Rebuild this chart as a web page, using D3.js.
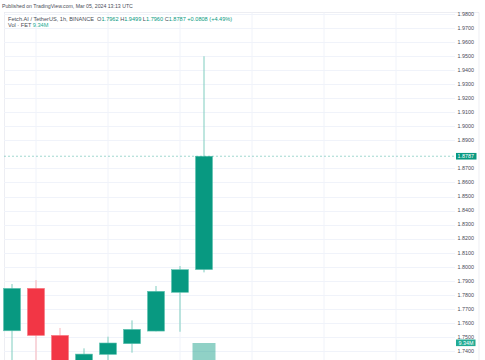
<!DOCTYPE html>
<html>
<head>
<meta charset="utf-8">
<script src="https://cdn.jsdelivr.net/npm/d3@7"></script>
<style>
  html, body { margin: 0; padding: 0; background: #fff; }
  svg { display: block; font-family: "Liberation Sans", Arial, sans-serif; }
</style>
</head>
<body>
<svg id="chart" width="485" height="360"></svg>
<script>
// ========== DATA ==========
const opens  = [1.7544, 1.7846, 1.7511, 1.7300, 1.7376, 1.7452, 1.7542, 1.7818, 1.7980];
const highs  = [1.7877, 1.7905, 1.7564, 1.7419, 1.7502, 1.7618, 1.7863, 1.8005, 1.9499];
const lows   = [1.7330, 1.7320, 1.7250, 1.7280, 1.7320, 1.7388, 1.7540, 1.7537, 1.7960];
const closes = [1.7846, 1.7511, 1.7300, 1.7378, 1.7457, 1.7554, 1.7825, 1.7979, 1.8787];
const volumes = [1.4, 2.1, 1.6, 0.9, 1.0, 1.3, 1.9, 2.3, 9.34]; // millions

const priceTicks = [1.98, 1.97, 1.96, 1.95, 1.94, 1.93, 1.92, 1.91, 1.90, 1.89, 1.87,
  1.86, 1.85, 1.84, 1.83, 1.82, 1.81, 1.80, 1.79, 1.78, 1.77, 1.76, 1.75, 1.74];
const timeGrid = [1, 4, 7, 10, 13, 16];

const lastPrice = 1.8787;
const lastVolume = "9.34M";

const green = "#089981", red = "#f23645";
const textGray = "#4a4d57";

// ========== LAYOUT ==========
const svg = d3.select("#chart");
const pane = { left: 4, top: 12.5, right: 455, axisRight: 479 };

const y = d3.scaleLinear().domain([1.74, 1.98]).range([351, 14]);
const x = d3.scaleLinear().domain([0, 1]).range([12, 36]);
const yVol = d3.scaleLinear().domain([0, 9.34]).range([410, 343]);

// ========== HEADER ==========
svg.append("text")
  .attr("x", 2).attr("y", 7.5)
  .attr("font-size", 5.2).attr("fill", textGray)
  .text("Published on TradingView.com, Mar 05, 2024 13:13 UTC");

// pane borders
svg.append("line").attr("x1", pane.left).attr("x2", pane.axisRight)
  .attr("y1", pane.top).attr("y2", pane.top).attr("stroke", "#e0e3eb").attr("stroke-width", 0.6);
svg.append("line").attr("x1", pane.left + 0.5).attr("x2", pane.left + 0.5)
  .attr("y1", pane.top).attr("y2", 360).attr("stroke", "#e0e3eb").attr("stroke-width", 0.6);
svg.append("line").attr("x1", pane.axisRight).attr("x2", pane.axisRight)
  .attr("y1", pane.top).attr("y2", 360).attr("stroke", "#e0e3eb").attr("stroke-width", 0.6);

// ========== GRID ==========
const grid = svg.append("g");
grid.selectAll(".hgrid").data(priceTicks).join("line")
  .attr("x1", pane.left).attr("x2", pane.right)
  .attr("y1", d => Math.round(y(d)) + 0.5).attr("y2", d => Math.round(y(d)) + 0.5)
  .attr("stroke", "#f0f3fa").attr("stroke-width", 1);
grid.selectAll(".vgrid").data(timeGrid).join("line")
  .attr("x1", d => x(d)).attr("x2", d => x(d))
  .attr("y1", pane.top).attr("y2", 360)
  .attr("stroke", "#f0f3fa").attr("stroke-width", 1);

// price axis labels
svg.append("g").selectAll("text").data(priceTicks).join("text")
  .attr("x", 474).attr("y", d => y(d) + 1.8)
  .attr("text-anchor", "end").attr("font-size", 5.4).attr("fill", textGray)
  .text(d => d.toFixed(4));

// ========== VOLUME ==========
svg.append("g").selectAll("rect").data(volumes).join("rect")
  .attr("x", (d, i) => x(i) - 11.5).attr("width", 23)
  .attr("y", d => yVol(d)).attr("height", d => yVol(0) - yVol(d))
  .attr("fill", (d, i) => closes[i] >= opens[i] ? "rgba(8,153,129,0.45)" : "rgba(242,54,69,0.45)");

// ========== CANDLES ==========
const idx = d3.range(opens.length);
const candles = svg.append("g");
candles.selectAll(".wick").data(idx).join("line")
  .attr("x1", i => x(i)).attr("x2", i => x(i))
  .attr("y1", i => y(highs[i])).attr("y2", i => y(lows[i]))
  .attr("stroke", i => closes[i] >= opens[i] ? "#7fcdbf" : "#f9b3b9")
  .attr("stroke-width", 1);
candles.selectAll(".body").data(idx).join("rect")
  .attr("x", i => x(i) - 8.5).attr("width", 17)
  .attr("y", i => y(Math.max(opens[i], closes[i])))
  .attr("height", i => Math.abs(y(opens[i]) - y(closes[i])))
  .attr("fill", i => closes[i] >= opens[i] ? green : red)
  .attr("stroke", i => closes[i] >= opens[i] ? "#5ec2b0" : "#f77882")
  .attr("stroke-width", 0.6);

// ========== LAST PRICE LINE ==========
svg.append("line")
  .attr("x1", pane.left).attr("x2", pane.right)
  .attr("y1", y(lastPrice)).attr("y2", y(lastPrice))
  .attr("stroke", green).attr("stroke-opacity", 0.55)
  .attr("stroke-width", 0.7).attr("stroke-dasharray", "2,2");

svg.append("rect")
  .attr("x", 456).attr("y", y(lastPrice) - 3.3).attr("width", 20.5).attr("height", 6.6)
  .attr("fill", green);
svg.append("text")
  .attr("x", 474).attr("y", y(lastPrice) + 1.9)
  .attr("text-anchor", "end").attr("font-size", 5.4).attr("fill", "#fff")
  .text(lastPrice.toFixed(4));

svg.append("rect")
  .attr("x", 456).attr("y", yVol(9.34) - 3.5).attr("width", 19.5).attr("height", 6.6)
  .attr("fill", "#22ab94");
svg.append("text")
  .attr("x", 473.5).attr("y", yVol(9.34) + 1.7)
  .attr("text-anchor", "end").attr("font-size", 5.4).attr("fill", "#fff")
  .text(lastVolume);

// ========== LEGEND ==========
const legend = svg.append("text")
  .attr("x", 8).attr("y", 20.5).attr("font-size", 5.6).attr("fill", textGray);
const parts = [
  ["Fetch.AI / TetherUS, 1h, BINANCE  O", textGray], ["1.7962", green],
  [" H", textGray], ["1.9499", green],
  [" L", textGray], ["1.7960", green],
  [" C", textGray], ["1.8787", green],
  [" +0.0808 (+4.49%)", green]
];
parts.forEach(([t, c]) => legend.append("tspan").attr("fill", c).attr("xml:space", "preserve").text(t));

const vol = svg.append("text")
  .attr("x", 8).attr("y", 26.5).attr("font-size", 5.6).attr("fill", textGray);
vol.append("tspan").text("Vol · FET  ");
vol.append("tspan").attr("fill", "#22ab94").text(lastVolume);
</script>
</body>
</html>
